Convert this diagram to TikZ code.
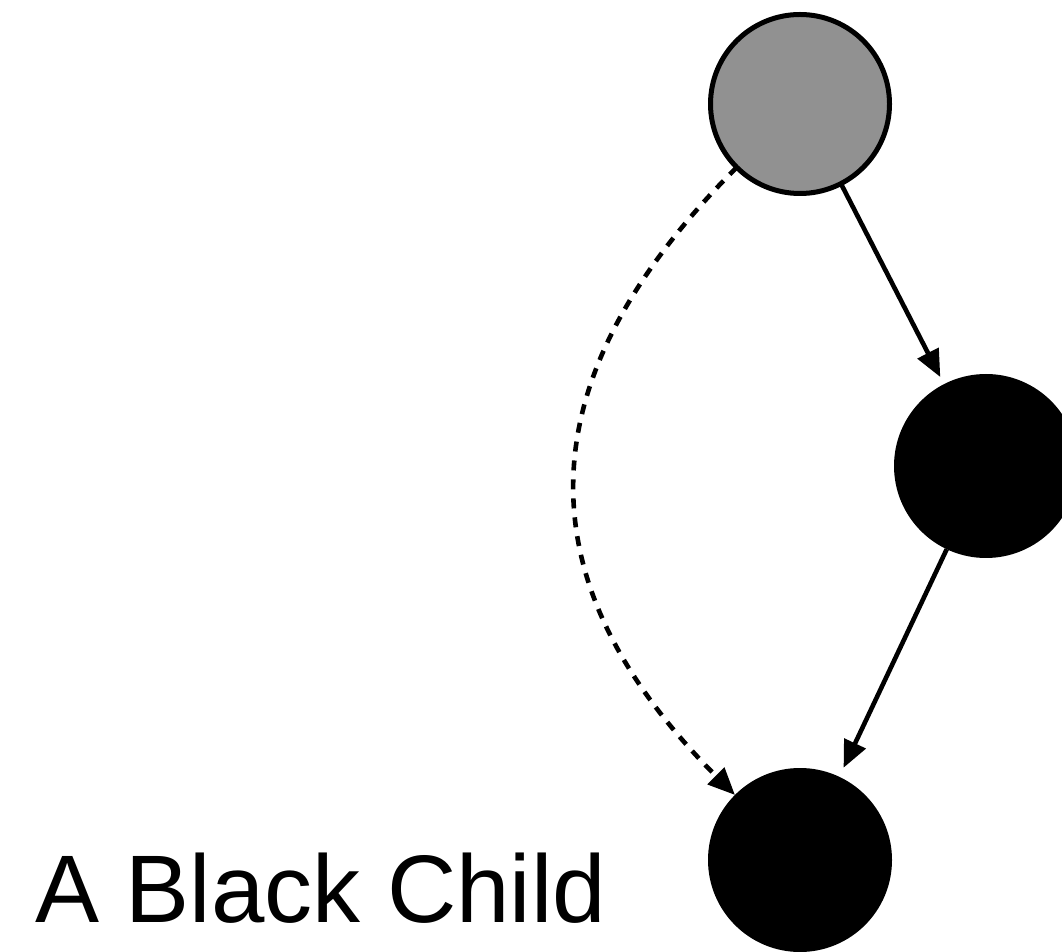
\documentclass[tikz,border=0pt]{standalone}
\usepackage{fontspec}
\setmainfont{Liberation Sans}
\usetikzlibrary{arrows.meta}
\definecolor{nodegray}{RGB}{145,145,145}
\begin{document}
\begin{tikzpicture}[x=1pt,y=1pt,
  rbnode/.style={circle,inner sep=0pt,outer sep=0pt},
  graynode/.style={rbnode,draw=black,line width=5pt,fill=nodegray,minimum size=179pt},
  blacknode/.style={rbnode,fill=black,minimum size=184pt},
  edge/.style={line width=4.6pt,-{Triangle[length=27pt,width=23pt]}},
  dashedge/.style={edge,dash pattern=on 10pt off 9pt}]
\useasboundingbox (0,0) rectangle (1062,951);
\node[graynode] (p) at (800,847) {};
\node[blacknode] (s) at (986,485) {};
\node[blacknode] (c) at (800,91) {};
\node[anchor=base west,inner sep=0pt,font=\fontsize{96}{110}\selectfont] (t) at (35,29) {A Black Child};
\draw[edge,shorten >=8pt] (p) -- (s);
\draw[edge,shorten >=10pt] (s) -- (c);
\draw[dashedge] (p) to[out=225,in=135,looseness=1.23] (c);
\end{tikzpicture}
\end{document}
